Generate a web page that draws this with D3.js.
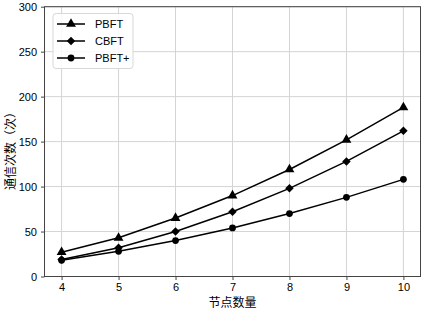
<!DOCTYPE html>
<html>
<head>
<meta charset="utf-8">
<script src="https://cdn.jsdelivr.net/npm/d3@7"></script>
<style>
body { margin: 0; background: #fff; }
text { font-family: "Liberation Sans", Arial, sans-serif; }
.cjk { font-family: "Noto Sans CJK SC", sans-serif; }
</style>
</head>
<body>
<div id="chart"></div>
<script>
var canvasWidth = 423;
var canvasHeight = 310;

/*Data*/
var nodes = [4, 5, 6, 7, 8, 9, 10];
var pbft = [27, 43, 65, 90, 119, 152, 188];
var cbft = [19, 32, 50, 72, 98, 128, 162];
var pbftPlus = [18, 28, 40, 54, 70, 88, 108];
var seriesNames = ["PBFT", "CBFT", "PBFT+"];
var yTicks = [0, 50, 100, 150, 200, 250, 300];

var svg = d3.select("#chart").append("svg")
    .attr("width", canvasWidth)
    .attr("height", canvasHeight);

/*Plot area edges*/
var plotLeft = 44.5, plotRight = 420.5, plotTop = 6.7, plotBottom = 276.5;

var xScale = d3.scaleLinear().domain([3.7, 10.3]).range([plotLeft, plotRight]);
var yScale = d3.scaleLinear().domain([0, 300]).range([plotBottom, plotTop]);

/*Grid lines*/
svg.append("g")
    .selectAll("line")
    .data(nodes)
    .join("line")
    .attr("x1", d => xScale(d)).attr("x2", d => xScale(d))
    .attr("y1", plotTop).attr("y2", plotBottom)
    .attr("stroke", "#d4d4d4").attr("stroke-width", 1);

svg.append("g")
    .selectAll("line")
    .data(yTicks)
    .join("line")
    .attr("x1", plotLeft).attr("x2", plotRight)
    .attr("y1", d => yScale(d)).attr("y2", d => yScale(d))
    .attr("stroke", "#d4d4d4").attr("stroke-width", 1);

/*Axes*/
var xAxis = svg.append("g")
    .attr("transform", "translate(0," + plotBottom + ")")
    .call(d3.axisBottom(xScale).tickValues(nodes).tickSize(3.5).tickPadding(3.5).tickFormat(d3.format("d")));
var yAxis = svg.append("g")
    .attr("transform", "translate(" + plotLeft + ",0)")
    .call(d3.axisLeft(yScale).tickValues(yTicks).tickSize(3.5).tickPadding(4));

[xAxis, yAxis].forEach(function (a) {
    a.select(".domain").remove();
    a.selectAll("line").attr("stroke", "#444");
    a.selectAll("text").attr("font-size", 11).attr("fill", "#000")
        .attr("font-family", "'Liberation Sans', Arial, sans-serif");
});

/*Frame*/
svg.append("rect")
    .attr("x", plotLeft).attr("y", plotTop)
    .attr("width", plotRight - plotLeft).attr("height", plotBottom - plotTop)
    .attr("fill", "none").attr("stroke", "#444").attr("stroke-width", 1);

/*Axis titles*/
svg.append("text")
    .attr("class", "cjk")
    .attr("x", (plotLeft + plotRight) / 2).attr("y", 307)
    .attr("text-anchor", "middle")
    .attr("font-size", 12)
    .text("节点数量");

svg.append("text")
    .attr("class", "cjk")
    .attr("transform", "translate(15,148) rotate(-90)")
    .attr("text-anchor", "middle")
    .attr("font-size", 12)
    .text("通信次数（次）");

/*Series*/
var series = [
    {name: seriesNames[0], values: pbft, symbol: d3.symbolTriangle, size: 42, rot: 0},
    {name: seriesNames[1], values: cbft, symbol: d3.symbolSquare, size: 36, rot: 45},
    {name: seriesNames[2], values: pbftPlus, symbol: d3.symbolCircle, size: 36, rot: 0}
];

var line = d3.line()
    .x((d, i) => xScale(nodes[i]))
    .y(d => yScale(d));

series.forEach(function (s) {
    svg.append("path")
        .datum(s.values)
        .attr("fill", "none")
        .attr("stroke", "#000")
        .attr("stroke-width", 1.5)
        .attr("d", line);

    svg.append("g")
        .selectAll("path")
        .data(s.values)
        .join("path")
        .attr("transform", (d, i) => "translate(" + xScale(nodes[i]) + "," + yScale(d) + ") rotate(" + s.rot + ")")
        .attr("d", d3.symbol().type(s.symbol).size(s.size))
        .attr("fill", "#000");
});

/*Legend*/
var legend = svg.append("g").attr("transform", "translate(53,13.5)");
legend.append("rect")
    .attr("width", 80).attr("height", 55).attr("rx", 3)
    .attr("fill", "#fff").attr("fill-opacity", 0.85)
    .attr("stroke", "#d8d8d8").attr("stroke-width", 1);

var items = legend.selectAll("g")
    .data(series)
    .join("g")
    .attr("transform", (d, i) => "translate(0," + (10.5 + i * 17) + ")");

items.append("line")
    .attr("x1", 4).attr("x2", 32)
    .attr("stroke", "#000").attr("stroke-width", 1.5);
items.append("path")
    .attr("transform", d => "translate(18,0) rotate(" + d.rot + ")")
    .attr("d", d => d3.symbol().type(d.symbol).size(d.size)())
    .attr("fill", "#000");
items.append("text")
    .attr("x", 42).attr("y", 4)
    .attr("font-size", 11)
    .text(d => d.name);
</script>
</body>
</html>
